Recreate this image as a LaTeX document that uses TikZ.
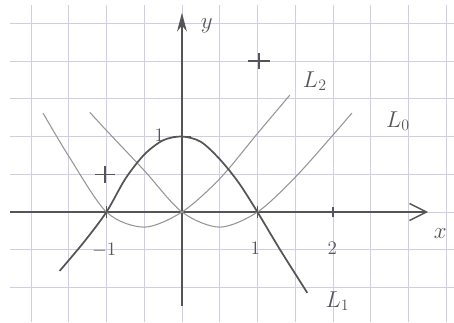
\documentclass[tikz,border=0pt]{standalone}
\usepackage{amsmath}
\usepackage{tikz}
\usetikzlibrary{arrows.meta}

\definecolor{gridblue}{RGB}{206,206,230}
\definecolor{pencil}{RGB}{85,85,85}
\definecolor{softpencil}{RGB}{150,150,150}

\begin{document}
\begin{tikzpicture}[x=2cm, y=2cm,
    axis/.style={draw=pencil, line width=1.1pt},
    basis/.style={draw=softpencil, line width=0.8pt},
    mainbasis/.style={draw=pencil, line width=1.3pt},
    lbl/.style={text=pencil, inner sep=1pt},
    tickmark/.style={draw=pencil, line width=1.4pt}]
  \useasboundingbox[fill=white] (-2.41,-1.457) rectangle (3.603,2.808);
  % squared paper
  \draw[gridblue, line width=0.6pt, step=0.5] (-2.28,-1.457) grid (3.603,2.74);

  % axes
  \coordinate (xl) at (-2.28,0);
  \coordinate (xr) at (3.26,0);
  \coordinate (yb) at (0,-1.245);
  \coordinate (yt) at (0,2.64);
  \draw[axis, -{Straight Barb[length=4.5mm, width=4.5mm]}] (xl) -- (xr);
  \draw[axis, -{Stealth[length=5mm, width=2.6mm]}] (yb) -- (yt);
  \node[lbl, font=\LARGE] (xlab) at (3.42,-0.28) {$x$};
  \node[lbl, font=\LARGE] (ylab) at (0.33,2.46) {$y$};

  % ticks
  \coordinate (xm1) at (-1,0);
  \coordinate (xp1) at (1,0);
  \coordinate (xp2) at (2,0);
  \coordinate (yp1) at (0,1);
  \draw[tickmark] (xm1) ++(0,-0.08) -- ++(0,0.16);
  \draw[tickmark] (xp1) ++(0,-0.08) -- ++(0,0.16);
  \draw[tickmark, line width=0.9pt] (xp2) ++(0,-0.07) -- ++(0,0.14);
  \draw[tickmark] (yp1) ++(-0.12,0) -- ++(0.24,0);
  \node[lbl, font=\Large] (tm1) at (-1.03,-0.5) {$-1$};
  \node[lbl, font=\Large] (tp1) at (0.97,-0.48) {$1$};
  \node[lbl, font=\Large] (tp2) at (1.99,-0.48) {$2$};
  \node[lbl, font=\Large] (ty1) at (-0.3,1.02) {$1$};

  % basis polynomials
  \draw[basis] plot[smooth] coordinates {(-1.84,1.31) (-1.5,0.74) (-1,0)
    (-0.5,-0.2) (0,0) (0.5,0.44) (1,1.04) (1.43,1.55)};
  \draw[basis] plot[smooth] coordinates {(-1.22,1.32) (-1,1.08) (-0.5,0.55)
    (0,0) (0.5,-0.2) (1,0) (1.5,0.46) (2,1.02) (2.25,1.31)};
  \draw[mainbasis] plot[smooth] coordinates {(-1.62,-0.78) (-1.3,-0.4) (-1,0)
    (-0.75,0.44) (-0.5,0.76) (-0.25,0.95) (0,1) (0.25,0.93) (0.5,0.7)
    (0.75,0.39) (1,0) (1.3,-0.5) (1.66,-1.07)};
  \node[lbl, font=\LARGE] (l2) at (1.76,1.73) {$L_2$};
  \node[lbl, font=\LARGE] (l0) at (2.86,1.2) {$L_0$};
  \node[lbl, font=\LARGE] (l1) at (2.06,-1.18) {$L_1$};

  % data points
  \coordinate (pa) at (1.02,2.0);
  \coordinate (pb) at (-1.02,0.5);
  \draw[tickmark, line width=1pt] (pa) ++(-0.14,0) -- ++(0.28,0) (pa) ++(0,-0.11) -- ++(0,0.22);
  \draw[tickmark, line width=1pt] (pb) ++(-0.13,0) -- ++(0.26,0) (pb) ++(0,-0.11) -- ++(0,0.22);
\end{tikzpicture}
\end{document}
